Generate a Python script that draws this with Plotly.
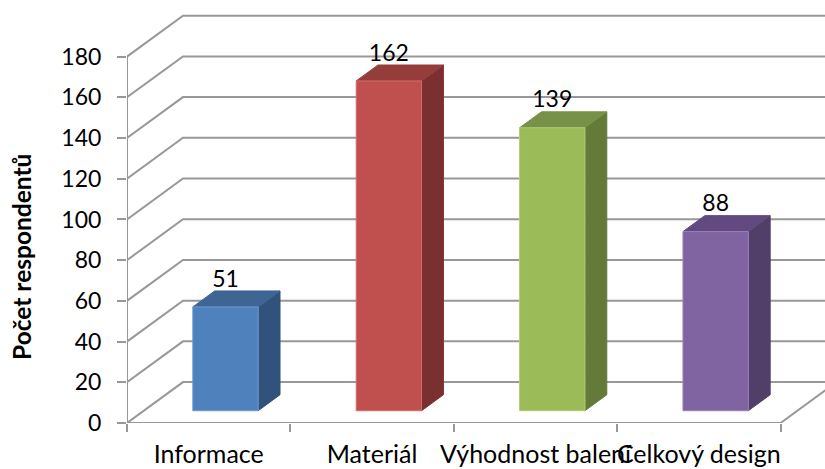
import plotly.graph_objects as go

categories = ["Informace", "Materiál", "Výhodnost balení", "Celkový design"]
values = [51, 162, 139, 88]
front_colors = ["#4F81BD", "#C0504D", "#9BBB59", "#8064A2"]
edge_colors = ["#6F9AD0", "#D06E6B", "#B0CC78", "#9A80BC"]
top_colors = ["#3F6594", "#953D3B", "#789148", "#624A80"]
side_colors = ["#30527B", "#7A302E", "#637A39", "#523F69"]
y_ticks = [0, 20, 40, 60, 80, 100, 120, 140, 160, 180]
y_title = "Počet respondentů"

# Oblique projection: depth runs from the front plane (0) to the back wall (1).
DEPTH_X = 0.3427   # in category widths
DEPTH_Y = 20.1     # in value units
BAR_WIDTH = 0.40
BAR_NEAR = 0.30
BAR_FAR = 0.69
LABEL_GAP = 5.0    # value units between the bar's back edge and its label centre
GRID = "#989898"
TEXT = "#000000"
FONT = "Lato, Carlito, Calibri, sans-serif"


def project(x, y, d):
    return x + d * DEPTH_X, y + d * DEPTH_Y


def polyline(points, **kwargs):
    xy = [project(*p) for p in points]
    return go.Scatter(
        x=[p[0] for p in xy], y=[p[1] for p in xy],
        cliponaxis=False, showlegend=False, hoverinfo="skip", **kwargs
    )


def wire(points):
    return polyline(points, mode="lines", line=dict(color=GRID, width=2))


def face(points, fill, edge=None):
    return polyline(
        points, mode="lines", fill="toself", fillcolor=fill,
        line=dict(color=edge or fill, width=1),
    )


n = len(categories)
fig = go.Figure()

# Walls: each gridline runs back along the side wall, then across the back wall.
for t in y_ticks:
    fig.add_trace(wire([(0, t, 0), (0, t, 1), (n, t, 1)]))

# Floor and axis lines
fig.add_trace(wire([(0, 0, 0), (n, 0, 0), (n, 0, 1)]))
fig.add_trace(wire([(0, 0, 0), (0, y_ticks[-1], 0)]))

# Bars: side, top, then front face
for i, v in enumerate(values):
    x0 = i + 0.5 - BAR_WIDTH / 2
    x1 = i + 0.5 + BAR_WIDTH / 2
    fig.add_trace(face(
        [(x1, 0, BAR_NEAR), (x1, 0, BAR_FAR), (x1, v, BAR_FAR), (x1, v, BAR_NEAR), (x1, 0, BAR_NEAR)],
        side_colors[i],
    ))
    fig.add_trace(face(
        [(x0, v, BAR_NEAR), (x1, v, BAR_NEAR), (x1, v, BAR_FAR), (x0, v, BAR_FAR), (x0, v, BAR_NEAR)],
        top_colors[i],
    ))
    fig.add_trace(face(
        [(x0, 0, BAR_NEAR), (x1, 0, BAR_NEAR), (x1, v, BAR_NEAR), (x0, v, BAR_NEAR), (x0, 0, BAR_NEAR)],
        front_colors[i], edge_colors[i],
    ))

# Value labels sit just above the bar top, centred on the front face
label_x = [i + 0.5 + BAR_NEAR * DEPTH_X for i in range(n)]
label_y = [v + BAR_FAR * DEPTH_Y + LABEL_GAP for v in values]
fig.add_trace(go.Scatter(
    x=label_x, y=label_y, mode="text", text=[str(v) for v in values],
    textposition="middle center", textfont=dict(family=FONT, size=23, color=TEXT),
    cliponaxis=False, showlegend=False, hoverinfo="skip",
))

fig.update_layout(
    width=825, height=469,
    margin=dict(l=127, r=0, t=0, b=45.7, pad=0, autoexpand=False),
    paper_bgcolor="white", plot_bgcolor="white",
    hovermode=False,
    font=dict(family=FONT, size=23, color=TEXT),
    xaxis=dict(
        range=[0, 4.272], showgrid=False, zeroline=False, showline=False, automargin=False,
        tickmode="array", tickvals=[i + 0.5 for i in range(n)], ticktext=categories,
        tickangle=0, ticks="", ticklabelstandoff=14,
        tickfont=dict(family=FONT, size=25, color=TEXT),
        minor=dict(tickmode="array", tickvals=list(range(n + 1)), ticks="outside",
                   ticklen=8, tickwidth=2, tickcolor=GRID, showgrid=False),
    ),
    yaxis=dict(
        range=[0, 207.8], showgrid=False, zeroline=False, showline=False, automargin=False,
        tickmode="array", tickvals=y_ticks, ticks="outside", ticklen=9,
        tickwidth=2, tickcolor=GRID, ticklabelstandoff=11,
        tickfont=dict(family=FONT, size=23, color=TEXT),
    ),
    annotations=[dict(
        text=f"<b>{y_title}</b>", textangle=-90, showarrow=False,
        xref="paper", yref="y", x=-0.1504, y=81.6, xanchor="center", yanchor="middle",
        font=dict(family=FONT, size=24.5, color=TEXT),
    )],
)

fig.write_html("out.html", config=dict(displayModeBar=False))
